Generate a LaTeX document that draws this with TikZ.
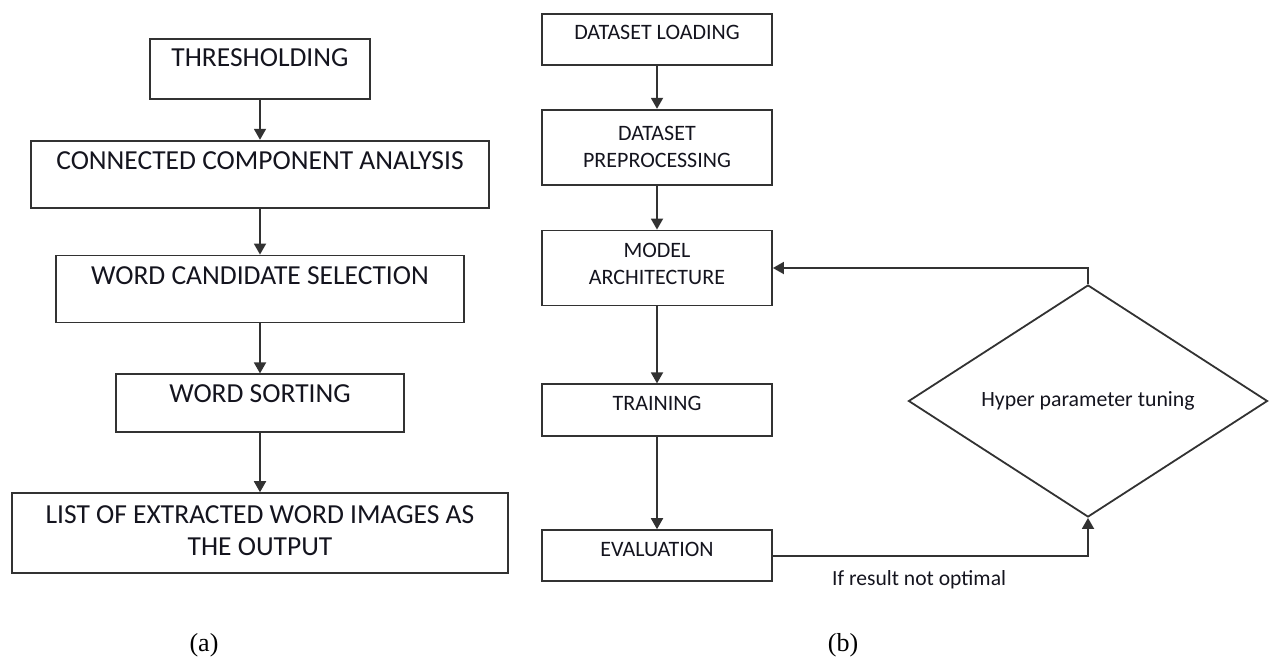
\documentclass[tikz,border=0pt]{standalone}
\usepackage{fontspec}
\setmainfont{Carlito}
\newfontfamily\capfont{Liberation Serif}
\usepackage{tikz}
\usetikzlibrary{positioning,arrows.meta,shapes.geometric}
\definecolor{flowgray}{RGB}{50,50,50}
\definecolor{flowtext}{RGB}{20,20,30}
% box text: width, height, baseline from top, text
\newcommand{\boxtext}[4]{\parbox[c][#2][t]{#1}{\centering\rule{0pt}{#3}#4\par}}

\begin{document}
\begin{tikzpicture}[
    x=1pt, y=-1pt,
    stage/.style={rectangle, draw=flowgray, line width=1.8pt, inner sep=0pt, text=flowtext, anchor=north},
    bigtxt/.style={font=\fontsize{27.5}{32}\selectfont},
    smalltxt/.style={font=\fontsize{22}{26.5}\selectfont},
    decision/.style={diamond, draw=flowgray, line width=1.8pt, inner sep=0pt, minimum width=359pt, minimum height=204pt, text=flowtext, font=\fontsize{21.8}{26}\selectfont},
    flow/.style={-{Triangle[length=11pt, width=12pt]}, line width=1.8pt, draw=flowgray},
    note/.style={text=flowtext, font=\fontsize{21.6}{25}\selectfont, inner sep=0pt},
    sublabel/.style={font=\capfont\fontsize{26}{30}\selectfont, inner sep=0pt}
  ]
    \useasboundingbox (0,0) rectangle (1269,657);

    % (a) word extraction
    \node[stage, bigtxt] (thr) at (260,38) {\boxtext{220pt}{60pt}{28pt}{THRESHOLDING}};
    \node[stage, bigtxt, below=40pt of thr] (cca) {\boxtext{458pt}{67pt}{29pt}{CONNECTED COMPONENT ANALYSIS}};
    \node[stage, bigtxt, below=46pt of cca] (wcs) {\boxtext{408pt}{67pt}{29pt}{WORD CANDIDATE SELECTION}};
    \node[stage, bigtxt, below=50pt of wcs] (wsort) {\boxtext{288pt}{58pt}{28pt}{WORD SORTING}};
    \node[stage, bigtxt, below=59pt of wsort] (wlist) {\boxtext{496pt}{80pt}{30pt}{LIST OF EXTRACTED WORD IMAGES AS\\THE OUTPUT}};

    \draw[flow] (thr) -- (cca);
    \draw[flow] (cca) -- (wcs);
    \draw[flow] (wcs) -- (wsort);
    \draw[flow] (wsort) -- (wlist);

    % (b) model training
    \node[stage, smalltxt] (load) at (657,13) {\boxtext{230pt}{51pt}{26pt}{DATASET LOADING}};
    \node[stage, smalltxt, below=43pt of load] (prep) {\boxtext{230pt}{75pt}{31pt}{DATASET\\PREPROCESSING}};
    \node[stage, smalltxt, below=44pt of prep] (arch) {\boxtext{230pt}{75pt}{27pt}{MODEL\\ARCHITECTURE}};
    \node[stage, smalltxt, below=77pt of arch] (train) {\boxtext{230pt}{52pt}{26pt}{TRAINING}};
    \node[stage, smalltxt, below=92pt of train] (eval) {\boxtext{230pt}{51pt}{26pt}{EVALUATION}};
    \node[decision] (tune) at (1088,401) {Hyper parameter tuning};
    \node[note, anchor=base west] (cond) at (832,585) {If result not optimal};

    \draw[flow] (load) -- (prep);
    \draw[flow] (prep) -- (arch);
    \draw[flow] (arch) -- (train);
    \draw[flow] (train) -- (eval);
    \draw[flow] (eval.east) -| (tune.south);
    \draw[flow] (tune.north) |- (arch.east);

    \node[sublabel] (capa) at (204,645) {(a)};
    \node[sublabel] (capb) at (843,645) {(b)};
\end{tikzpicture}
\end{document}
